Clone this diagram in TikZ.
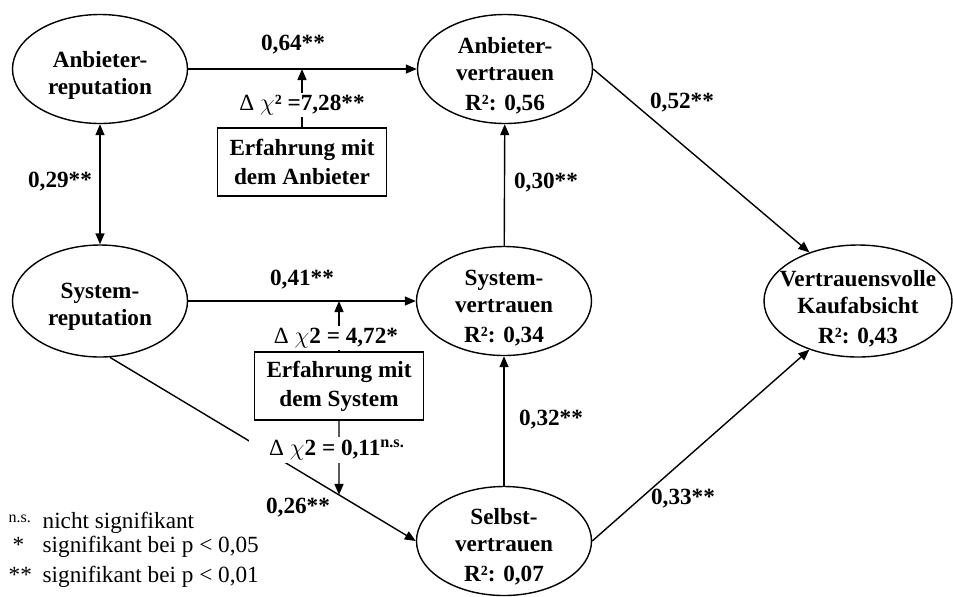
\documentclass[tikz,border=0pt]{standalone}
\usepackage{fontspec}
\setmainfont{Liberation Serif}
\usetikzlibrary{arrows.meta,shapes.geometric,intersections}

\begin{document}
\begin{tikzpicture}[x=0.5pt, y=-0.5pt, line width=0.7pt, >={Triangle[length=5.5pt,width=4.5pt]},
  font=\fontsize{11.6}{13.5}\selectfont\bfseries]
\tikzstyle{construct}=[draw, ellipse, inner sep=0pt]
\tikzstyle{Lconstruct}=[construct, minimum width=87.5pt, minimum height=54.5pt]
\tikzstyle{XLconstruct}=[construct, minimum width=94pt, minimum height=56pt]
\tikzstyle{ctext}=[align=center, inner sep=0pt]
\tikzstyle{moderator}=[draw, align=center, minimum width=84.5pt, minimum height=34pt, inner sep=0pt]
\tikzstyle{coef}=[text centered, inner sep=1pt]
\tikzstyle{chi}=[coef, fill=white, inner xsep=3pt]
\tikzstyle{legend}=[anchor=west, inner sep=0pt, font=\fontsize{11.6}{13.5}\selectfont\mdseries]

\useasboundingbox (0,0) rectangle (953,596);

\node[Lconstruct] (anbrep) at (100,69) {};
\node[Lconstruct, minimum height=56pt] (sysrep) at (100,301) {};
\node[Lconstruct] (anbv) at (505,69) {};
\node[Lconstruct] (sysv) at (504,301) {};
\node[Lconstruct] (selbst) at (504,541) {};
\node[XLconstruct] (kauf) at (858,301) {};
\node[ctext] (anbreptxt) at ([yshift=-3pt]anbrep) {Anbieter-\\reputation};
\node[ctext] (sysreptxt) at ([yshift=-3pt]sysrep) {System-\\reputation};
\node[ctext] (anbvtxt) at ([yshift=-3.5pt]anbv) {Anbieter-\\vertrauen\\[1.5pt]R²: 0,56};
\node[ctext] (sysvtxt) at ([yshift=-3.5pt]sysv) {System-\\vertrauen\\[1.5pt]R²: 0,34};
\node[ctext] (selbsttxt) at ([yshift=-3pt]selbst) {Selbst-\\vertrauen\\[1.5pt]R²: 0,07};
\node[ctext] (kauftxt) at ([yshift=-4pt]kauf) {Vertrauensvolle\\Kaufabsicht\\[1.5pt]R²: 0,43};
\node[moderator] (erfA) at (302,162) {Erfahrung mit\\[1pt]dem Anbieter};
\node[moderator] (erfS) at (339,386) {Erfahrung mit\\[1pt]dem System};

\draw (anbrep) edge[<->] (sysrep);
\draw (anbrep.east) edge[->] (anbv.west);
\draw (sysrep.east) edge[->] (sysv.west);
\draw (sysv) edge[->] (anbv);
\draw (selbst) edge[->] (sysv);
\draw (anbv.east) edge[->] (kauf.135);
\draw (selbst.east) edge[->] (kauf.225);
\draw[->, name path=diag] (sysrep.-80) -- (selbst.west);
\draw (erfA.north) edge[->] (erfA.north |- anbv.west);
\draw (erfS.north) edge[->] (erfS.north |- sysv.west);
\path[name path=drop] (erfS.south) -- ++(0,150);
\path[name intersections={of=diag and drop, by=hitS}];
\draw (erfS.south) edge[->] (hitS);

\node[coef] (c064) at (293,45) {0,64**};
\node[coef] (c029) at (60,182) {0,29**};
\node[coef] (c030) at (546,183) {0,30**};
\node[coef] (c052) at (682,103) {0,52**};
\node[coef] (c041) at (302,280) {0,41**};
\node[coef] (c032) at (551,420) {0,32**};
\node[coef] (c033) at (683,499) {0,33**};
\node[coef] (c026) at (298,508) {0,26**};
\node[chi] (chiA) at (302,105) {{\mdseries Δ} $\chi$² =7,28**};
\node[chi] (chiS1) at (336,338) {{\mdseries Δ} $\chi$2 = 4,72*};
\node[chi, inner xsep=10pt] (chiS2) at (337,450) {{\mdseries Δ} $\chi$2 = 0,11\textsuperscript{n.s.}};

\node[legend] (legns) at (8,523) {\makebox[17pt][l]{\raisebox{3pt}{\fontsize{8}{8}\selectfont n.s.}}nicht signifikant};
\node[legend] (legs) at (8,547) {\makebox[17pt][l]{\,*}signifikant bei p < 0,05};
\node[legend] (legss) at (8,577) {\makebox[17pt][l]{**}signifikant bei p < 0,01};
\end{tikzpicture}
\end{document}
